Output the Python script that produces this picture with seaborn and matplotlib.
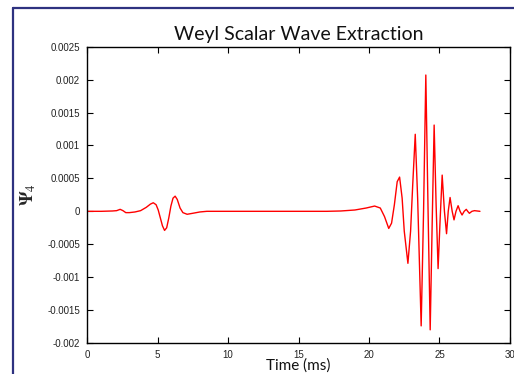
"""Recreate the Weyl scalar (Psi_4) wave extraction plot."""

import matplotlib

matplotlib.use("Agg")

import matplotlib.pyplot as plt
import pandas as pd
import seaborn as sns
from matplotlib.lines import Line2D

# Time (ms) and Psi_4 values
TIME_MS = [
    0.0, 1.0, 1.8, 2.1, 2.35, 2.55, 2.75, 3.0, 3.4, 3.8,
    4.2, 4.5, 4.7, 4.9, 5.05, 5.2, 5.35, 5.5, 5.65, 5.8,
    5.95, 6.1, 6.25, 6.4, 6.6, 6.8, 7.1, 7.5, 8.0, 8.5,
    12.0, 15.0, 17.0, 18.0, 19.0, 19.8, 20.4, 20.8, 21.1, 21.4,
    21.6, 21.8, 22.0, 22.17, 22.35, 22.5, 22.76, 22.95, 23.1, 23.28,
    23.45, 23.7, 23.87, 24.03, 24.19, 24.34, 24.48, 24.62, 24.76, 24.9,
    25.05, 25.19, 25.35, 25.5, 25.62, 25.75, 25.9, 26.03, 26.17, 26.32,
    26.46, 26.6, 26.75, 26.9, 27.0, 27.12, 27.3, 27.48, 27.87,
]
PSI4 = [
    0.0, 0.0, 0.000005, 0.00001, 0.00003, 0.00001, -0.00002, -0.00002, -0.00001, 0.00001,
    0.00006, 0.00011, 0.00013, 0.0001, 0.00002, -0.0001, -0.00022, -0.00029, -0.00025, -0.0001,
    0.00008, 0.0002, 0.00023, 0.00018, 0.00005, -0.00002, -0.000045, -0.00003, -0.00001, 0.0,
    0.0, 0.0, 0.0, 0.000005, 0.00002, 0.00005, 0.00008, 0.00005, -0.00008, -0.00026,
    -0.00018, 0.0001, 0.00045, 0.00052, 0.0002, -0.0003, -0.00079, -0.0003, 0.0004, 0.00117,
    0.0002, -0.00174, 0.0, 0.00207, 0.0, -0.0018, -0.0002, 0.00131, 0.0001, -0.00087,
    -0.0001, 0.00055, 0.0, -0.00034, 0.0, 0.00021, 0.0, -0.00013, 0.0, 0.000085,
    0.0, -0.000056, 0.0, 0.00003, 0.0, -0.00003, 0.0, 0.00001, 0.0,
]
X_TICKS = [0, 5, 10, 15, 20, 25, 30]
Y_TICKS = [-0.002, -0.0015, -0.001, -0.0005, 0, 0.0005, 0.001, 0.0015, 0.002, 0.0025]
Y_TICK_LABELS = ["-0.002", "-0.0015", "-0.001", "-0.0005", "0",
                 "0.0005", "0.001", "0.0015", "0.002", "0.0025"]


def main() -> None:
    sns.set_theme(style="ticks")
    plt.rcParams["mathtext.fontset"] = "stix"

    df = pd.DataFrame({"time": TIME_MS, "psi4": PSI4})

    fig = plt.figure(figsize=(5.14, 3.74), dpi=100)
    ax = fig.add_axes([0.1693, 0.0829, 0.8229, 0.7922])
    sns.lineplot(data=df, x="time", y="psi4", ax=ax, color="#ff0000",
                 linewidth=1.0, estimator=None, sort=False)

    ax.set_xlim(0, 30)
    ax.set_ylim(-0.002, 0.0025)
    ax.set_xticks(X_TICKS)
    ax.set_xticklabels([str(t) for t in X_TICKS])
    ax.set_yticks(Y_TICKS)
    ax.set_yticklabels(Y_TICK_LABELS)
    ax.tick_params(direction="in", length=4, width=0.8, top=True, right=True,
                   labelsize=7, colors="black")
    ax.tick_params(axis="x", pad=5)
    ax.tick_params(axis="y", pad=5)
    for label in ax.get_xticklabels() + ax.get_yticklabels():
        label.set_fontfamily("Liberation Sans")
        label.set_color("#222222")
    for spine in ax.spines.values():
        spine.set_visible(True)
        spine.set_linewidth(1.0)
        spine.set_color("black")

    ax.set_title("Weyl Scalar Wave Extraction", fontsize=14, family="Lato",
                 color="#111111", pad=5)
    ax.set_xlabel("Time (ms)", fontsize=11, family="Lato", color="#111111",
                  labelpad=-1)
    ax.set_ylabel(r"$\mathbf{\Psi}_4$", fontsize=13, labelpad=7)

    # navy page frame visible at the top-left of the original screenshot
    frame = "#2e3280"
    fig.add_artist(Line2D([12.5 / 514, 12.5 / 514], [0, 1 - 7.5 / 374],
                          color=frame, linewidth=1.6, transform=fig.transFigure))
    fig.add_artist(Line2D([12.5 / 514, 1], [1 - 7.5 / 374, 1 - 7.5 / 374],
                          color=frame, linewidth=1.6, transform=fig.transFigure))

    fig.savefig("out.png", dpi=100, facecolor="white")
    plt.close(fig)


if __name__ == "__main__":
    main()
